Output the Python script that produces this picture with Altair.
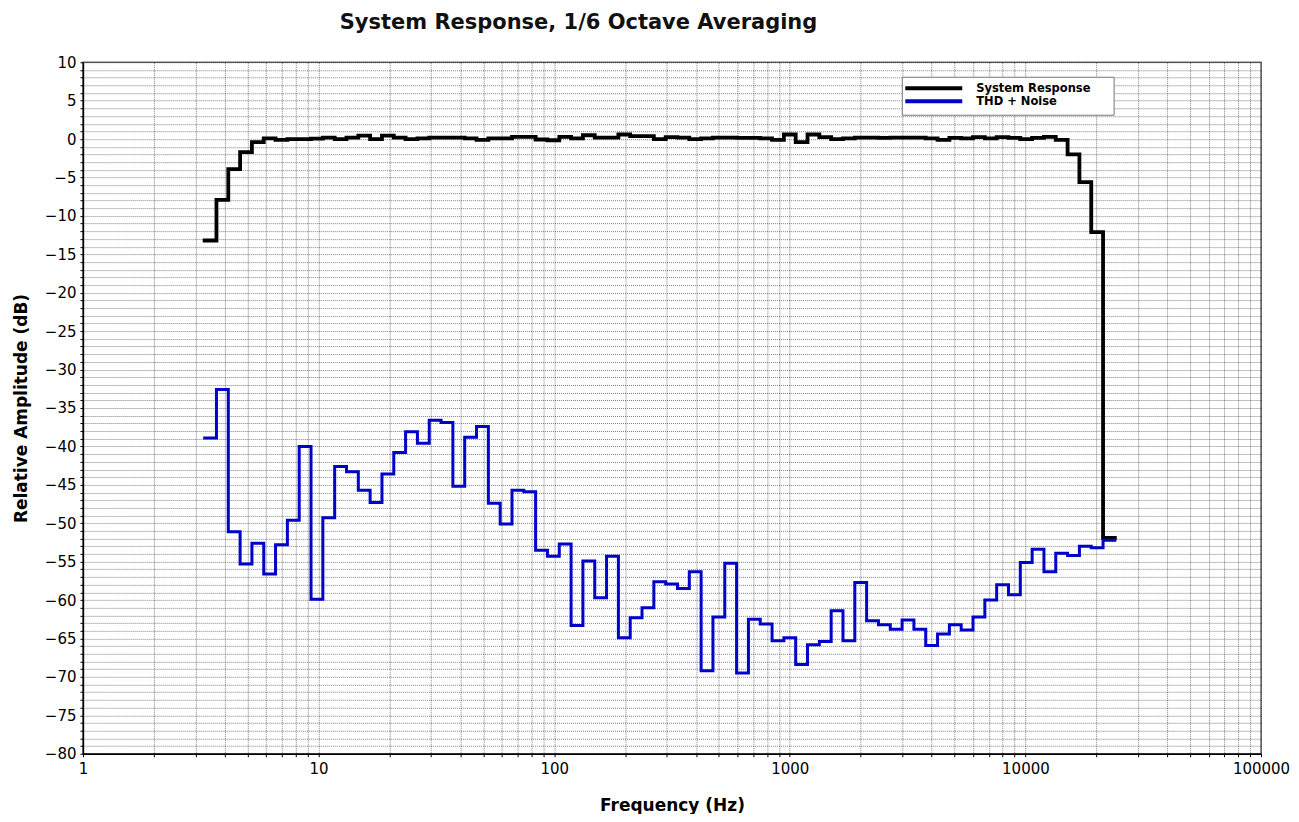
import altair as alt
import pandas as pd

# 1/6-octave band centre frequencies (Hz)
band_centers_hz = [
    3.480, 3.906, 4.385, 4.922, 5.524, 6.201, 6.960, 7.8125, 8.769, 9.843,
    11.049, 12.402, 13.920, 15.625, 17.538, 19.686, 22.097, 24.803, 27.841, 31.25,
    35.077, 39.373, 44.194, 49.606, 55.681, 62.5, 70.154, 78.745, 88.388, 99.213,
    111.36, 125.0, 140.31, 157.49, 176.78, 198.43, 222.72, 250.0, 280.62, 314.98,
    353.55, 396.85, 445.45, 500.0, 561.23, 629.96, 707.11, 793.70, 890.90, 1000.0,
    1122.5, 1259.9, 1414.2, 1587.4, 1781.8, 2000.0, 2244.9, 2519.8, 2828.4, 3174.8,
    3563.6, 4000.0, 4489.8, 5039.7, 5656.9, 6349.6, 7127.2, 8000.0, 8979.7, 10079.0,
    11314.0, 12699.0, 14254.0, 16000.0, 17959.0, 20159.0, 22627.0,
]

system_response_db = [
    -13.2, -7.9, -3.9, -1.7, -0.4, 0.1, -0.1, 0.0, 0.0, 0.05,
    0.2, 0.0, 0.2, 0.45, 0.0, 0.45, 0.2, 0.0, 0.1, 0.2,
    0.2, 0.2, 0.1, -0.1, 0.1, 0.1, 0.3, 0.3, -0.05, -0.15,
    0.3, 0.1, 0.5, 0.2, 0.2, 0.6, 0.4, 0.4, 0.0, 0.25,
    0.2, 0.0, 0.1, 0.2, 0.2, 0.15, 0.15, 0.1, -0.1, 0.6,
    -0.4, 0.6, 0.25, 0.0, 0.1, 0.2, 0.2, 0.15, 0.2, 0.2,
    0.2, 0.1, -0.1, 0.17, 0.1, 0.26, 0.1, 0.26, 0.17, 0.0,
    0.17, 0.3, -0.1, -2.0, -5.6, -12.1, -51.9,
]

thd_noise_db = [
    -38.9, -32.6, -51.1, -55.3, -52.6, -56.6, -52.8, -49.6, -40.0, -59.9,
    -49.3, -42.6, -43.3, -45.7, -47.3, -43.6, -40.8, -38.1, -39.6, -36.6,
    -36.9, -45.2, -38.8, -37.4, -47.4, -50.1, -45.7, -45.9, -53.5, -54.3,
    -52.7, -63.3, -54.9, -59.7, -54.3, -64.9, -62.3, -61.0, -57.6, -57.9,
    -58.5, -56.3, -69.2, -62.2, -55.2, -69.5, -62.5, -63.1, -65.3, -64.9,
    -68.4, -65.8, -65.4, -61.4, -65.3, -57.7, -62.7, -63.2, -63.8, -62.6,
    -63.8, -65.9, -64.4, -63.2, -63.9, -62.2, -60.0, -58.0, -59.3, -55.1,
    -53.4, -56.3, -53.9, -54.2, -53.0, -53.2, -52.2,
]

series_names = ["System Response", "THD + Noise"]
series_colors = ["#000000", "#0000c8"]
series_widths = [3.8, 3.0]

x_ticks = [1, 2, 3, 4, 5, 6, 7, 8, 9,
           10, 20, 30, 40, 50, 60, 70, 80, 90,
           100, 200, 300, 400, 500, 600, 700, 800, 900,
           1000, 2000, 3000, 4000, 5000, 6000, 7000, 8000, 9000,
           10000, 20000, 30000, 40000, 50000, 60000, 70000, 80000, 90000,
           100000]
x_labels = [1, 10, 100, 1000, 10000, 100000]
y_ticks = list(range(-80, 11))
y_labels = list(range(-80, 11, 5))

# build step table: lower band edges plus final upper edge
half_band = 2 ** (1 / 12)
rows = []
for name, vals in zip(series_names, [system_response_db, thd_noise_db]):
    for c, v in zip(band_centers_hz, vals):
        rows.append({"series": name, "freq": c / half_band, "db": v})
    rows.append({"series": name, "freq": band_centers_hz[-1] * half_band, "db": vals[-1]})
df = pd.DataFrame(rows)

x_label_js = "[" + ",".join(str(v) for v in x_labels) + "]"
y_label_js = "[" + ",".join(str(v) for v in y_labels) + "]"

FONT = "DejaVu Sans"

lines = alt.Chart(df).mark_line(
    interpolate="step-after", strokeJoin="miter", strokeCap="square"
).encode(
    x=alt.X(
        "freq:Q",
        scale=alt.Scale(type="log", domain=[1, 100000], nice=False),
        axis=alt.Axis(
            values=x_ticks,
            labelExpr=f"indexof({x_label_js}, datum.value) >= 0 ? format(datum.value, 'd') : ''",
            title="Frequency (Hz)",
            labelFontSize=15,
            labelPadding=5,
            tickSize=3,
            titleFontSize=17,
            titleFontWeight="bold",
            titlePadding=21,
            labelFlush=False,
            labelOverlap=False,
        ),
    ),
    y=alt.Y(
        "db:Q",
        scale=alt.Scale(domain=[-80, 10], nice=False, zero=False),
        axis=alt.Axis(
            values=y_ticks,
            labelExpr=f"indexof({y_label_js}, datum.value) >= 0 ? datum.label : ''",
            title="Relative Amplitude (dB)",
            labelFontSize=15,
            labelPadding=4,
            tickSize=3,
            titleFontSize=17,
            titleFontWeight="bold",
            titlePadding=14,
            labelOverlap=False,
            labelFlush=False,
        ),
    ),
    color=alt.Color(
        "series:N",
        scale=alt.Scale(domain=series_names, range=series_colors),
        legend=None,
    ),
    strokeWidth=alt.StrokeWidth(
        "series:N",
        scale=alt.Scale(domain=series_names, range=series_widths),
        legend=None,
    ),
)

# hand-drawn legend box (positions in plot pixels)
legend_src = pd.DataFrame({"series": series_names})
legend_box = alt.Chart(legend_src).mark_rect(
    fill="white", stroke="#777777", strokeWidth=1
).encode(
    x=alt.value(820), x2=alt.value(1032), y=alt.value(15), y2=alt.value(53)
).transform_filter(alt.datum.series == series_names[0])

legend_layers = [legend_box]
for i, (name, col) in enumerate(zip(series_names, series_colors)):
    ypos = 26 + 13 * i
    sample = alt.Chart(legend_src).mark_rule(
        color=col, strokeWidth=4
    ).encode(
        x=alt.value(823), x2=alt.value(880), y=alt.value(ypos)
    ).transform_filter(alt.datum.series == name)
    label = alt.Chart(legend_src).mark_text(
        align="left", baseline="middle", font=FONT, fontSize=11.5,
        fontWeight="bold", color="#000000"
    ).encode(
        x=alt.value(894), y=alt.value(ypos + 1), text="series:N"
    ).transform_filter(alt.datum.series == name)
    legend_layers += [sample, label]

chart = alt.layer(lines, *legend_layers).properties(
    width=1179,
    height=692,
    title=alt.TitleParams(
        "System Response, 1/6 Octave Averaging",
        anchor="start",
        frame="group",
        dx=257,
        offset=22,
        fontSize=21,
        font=FONT,
        fontWeight="bold",
        color="#111111",
    ),
    autosize=alt.AutoSizeParams(type="none"),
    padding={"left": 75, "top": 54, "right": 30, "bottom": 60},
).configure_axis(
    labelFont=FONT,
    titleFont=FONT,
    labelColor="#000000",
    titleColor="#000000",
    domainColor="#000000",
    domainWidth=1.5,
    tickColor="#000000",
    grid=True,
    gridColor="#000000",
    gridDash=[1, 1],
    gridOpacity=0.5,
    gridWidth=1,
).configure_view(
    stroke="#666666",
    strokeWidth=1.5,
)

chart.save("out.html", embed_options={"renderer": "svg", "actions": False})
